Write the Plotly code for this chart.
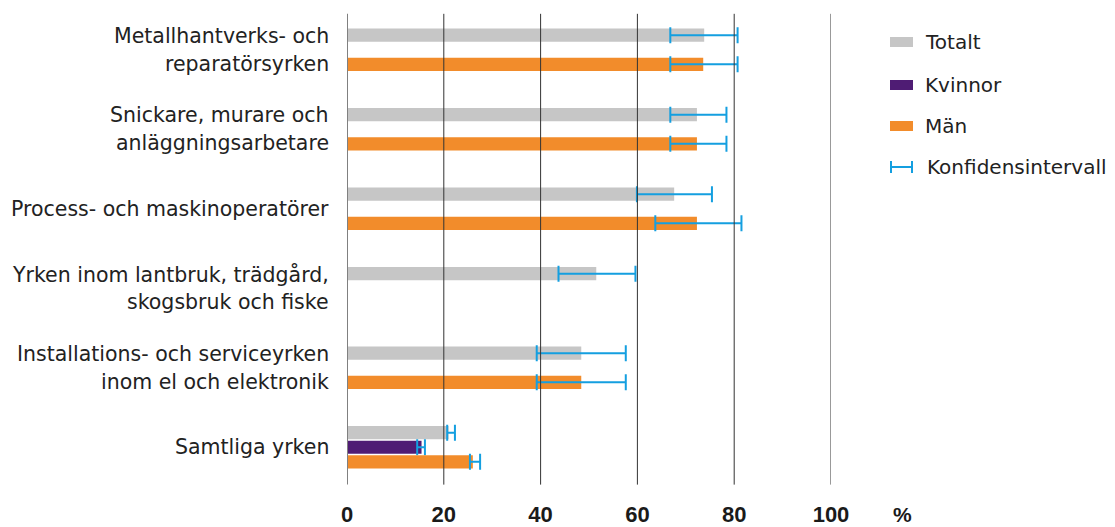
import plotly.graph_objects as go

categories = [
    "Metallhantverks- och<br>reparatörsyrken",
    "Snickare, murare och<br>anläggningsarbetare",
    "Process- och maskinoperatörer",
    "Yrken inom lantbruk, trädgård,<br>skogsbruk och fiske",
    "Installations- och serviceyrken<br>inom el och elektronik",
    "Samtliga yrken",
]
totalt = [73.8, 72.3, 67.6, 51.5, 48.4, 21.0]
totalt_lo = [66.8, 66.8, 59.9, 43.7, 39.2, 20.7]
totalt_hi = [80.7, 78.4, 75.4, 59.6, 57.6, 22.3]
kvinnor = [None, None, None, None, None, 15.4]
kvinnor_lo = [None, None, None, None, None, 14.5]
kvinnor_hi = [None, None, None, None, None, 16.1]
man = [73.6, 72.3, 72.3, None, 48.4, 26.0]
man_lo = [66.8, 66.8, 63.7, None, 39.2, 25.4]
man_hi = [80.7, 78.4, 81.5, None, 57.6, 27.5]
x_ticks = [0, 20, 40, 60, 80, 100]
series_names = ["Totalt", "Kvinnor", "Män"]
colors = ["#c6c6c6", "#4f1c74", "#f28c2b"]
ci_name = "Konfidensintervall"
ci_color = "#149fe0"

FONT = "DejaVu Sans, Liberation Sans, sans-serif"
TICKFONT = "Liberation Sans Narrow, Liberation Sans, Arial, sans-serif"
OFF = 8  # page body margin
W, H = 1115 - OFF, 527 - OFF
# plot area in page pixels: x 347..831, y 10..487
PL, PR, PT, PB = 347, 831, 10, 487
L, R, T, B = PL - OFF, W - (PR - OFF), PT - OFF, H - (PB - OFF)


def err(vals, lo, hi):
    plus = [None if v is None else h - v for v, h in zip(vals, hi)]
    minus = [None if v is None else v - l for v, l in zip(vals, lo)]
    return dict(type="data", symmetric=False, array=plus, arrayminus=minus,
                color=ci_color, thickness=2, width=8)


fig = go.Figure()
for name, vals, lo, hi, col in zip(series_names, [totalt, kvinnor, man],
                                    [totalt_lo, kvinnor_lo, man_lo],
                                    [totalt_hi, kvinnor_hi, man_hi], colors):
    fig.add_trace(go.Bar(
        name=name, y=categories, x=vals, orientation="h",
        marker=dict(color=col, line=dict(width=0)),
        error_x=err(vals, lo, hi), showlegend=False,
    ))

# gridlines drawn above bars
shapes = []
for t in x_ticks:
    shapes.append(dict(type="line", xref="x", yref="paper", x0=t, x1=t, y0=0.005, y1=0.992,
                       line=dict(color="#808080" if t == 0 else "#333333", width=2 if t == 0 else 1),
                       layer="above"))

# custom legend (page pixel -> paper coords)
pw = PR - PL
ph = PB - PT


def px_x(px):
    return (px - PL) / pw


def px_y(py):
    return 1 - (py - PT) / ph


annotations = []
legend_y = [42, 85, 126]
for n, c, yy in zip(series_names, colors, legend_y):
    shapes.append(dict(type="rect", xref="paper", yref="paper",
                       x0=px_x(890), x1=px_x(913), y0=px_y(yy + 5), y1=px_y(yy - 5),
                       fillcolor=c, line=dict(width=0)))
    annotations.append(dict(text=n, xref="paper", yref="paper", x=px_x(923), y=px_y(yy),
                            xanchor="left", yanchor="middle", showarrow=False,
                            font=dict(family=FONT, size=20, color="#222222")))
yy = 167
shapes.append(dict(type="line", xref="paper", yref="paper", x0=px_x(891), x1=px_x(912),
                   y0=px_y(yy), y1=px_y(yy), line=dict(color=ci_color, width=2)))
for xx in (891, 912):
    shapes.append(dict(type="line", xref="paper", yref="paper", x0=px_x(xx), x1=px_x(xx),
                       y0=px_y(yy - 6), y1=px_y(yy + 6), line=dict(color=ci_color, width=2)))
annotations.append(dict(text=ci_name, xref="paper", yref="paper", x=px_x(925), y=px_y(yy),
                        xanchor="left", yanchor="middle", showarrow=False,
                        font=dict(family=FONT, size=20, color="#222222")))

# category labels
for cat in categories:
    lines = cat.split("<br>")
    n = len(lines)
    for i, ln in enumerate(lines):
        shift = 0 if n == 1 else (-14 if i == 0 else 14)
        annotations.append(dict(text=ln, xref="paper", yref="y", x=0, y=cat, xanchor="right",
                                yanchor="middle", xshift=-16, yshift=-shift, showarrow=False,
                                font=dict(family=FONT, size=20.5, color="#222222")))

annotations.append(dict(text="<b>%</b>", xref="paper", yref="paper", x=px_x(902), y=px_y(514),
                        xanchor="center", yanchor="middle", showarrow=False,
                        font=dict(family=TICKFONT, size=21, color="#1a1a1a")))

fig.update_layout(
    width=W, height=H,
    margin=dict(l=L, r=R, t=T, b=B, autoexpand=False),
    paper_bgcolor="white", plot_bgcolor="white",
    barmode="group", bargap=0.45, bargroupgap=0.1,
    shapes=shapes, annotations=annotations,
    xaxis=dict(range=[0, 100], tickvals=x_ticks, ticktext=[f"<b>{t}</b>" for t in x_ticks],
               showgrid=False, zeroline=False, showline=False, ticks="",
               ticklabelstandoff=12, automargin=False,
               tickfont=dict(family=TICKFONT, size=22, color="#1a1a1a")),
    yaxis=dict(autorange="reversed", showticklabels=False, showgrid=False, zeroline=False,
               showline=False, ticks="", automargin=False),
)
fig.write_html("out.html")
